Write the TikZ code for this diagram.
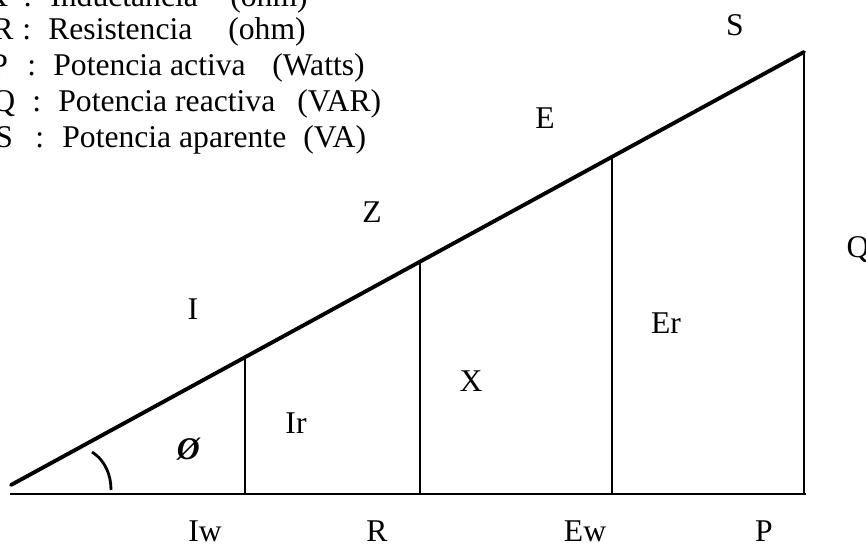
\documentclass[tikz,border=0pt]{standalone}
\usepackage{fontspec}
\setmainfont{Liberation Serif}
\usetikzlibrary{calc}

\begin{document}
\begin{tikzpicture}[lbl/.style={font=\fontsize{18}{21}\selectfont,inner sep=0pt},
  key/.style={lbl,anchor=base west}]
\useasboundingbox (0,0) rectangle (17.32,10.94);
\clip (0,0) rectangle (17.32,10.94);
\coordinate (O) at (0.2,1.06);
\coordinate (B) at (16.08,1.06);
\coordinate (H) at (0.22,1.24);
\coordinate (T) at (16.08,9.90);
\draw[line width=1.4pt] (O) -- ([xshift=1pt]B);
\draw[line width=2.2pt,line cap=round] (H) -- (T);
\draw[line width=1.4pt] (T) -- (B);
\foreach \t/\n in {0.2951/1,0.5158/2,0.7579/3}{
  \coordinate (h\n) at ($(H)!\t!(T)$);
  \draw[line width=1.3pt] (h\n) -- (h\n |- O);
}
\draw[line width=1.6pt] (1.84,1.90) .. controls (2.12,1.72) and (2.22,1.42) .. (2.22,1.14);
% side and segment labels
\node[lbl] (lS) at (14.70,10.44) {S};
\node[lbl] (lE) at (10.90,8.58) {E};
\node[lbl] (lZ) at (7.44,6.70) {Z};
\node[lbl] (lI) at (3.86,4.76) {I};
\node[lbl] (lQ) at (17.16,5.94) {Q};
\node[lbl] (lEr) at (13.32,4.48) {Er};
\node[lbl] (lX) at (9.42,3.32) {X};
\node[lbl] (lIr) at (5.92,2.48) {Ir};
\node[lbl] (lphi) at (3.78,1.96) {\textbf{\textit{Ø}}};
\node[lbl] (lIw) at (4.10,0.32) {Iw};
\node[lbl] (lR) at (7.54,0.32) {R};
\node[lbl] (lEw) at (11.70,0.32) {Ew};
\node[lbl] (lP) at (15.28,0.32) {P};
% legend
\foreach \y/\sx/\s/\cx/\dx/\d/\ux/\u in {
  10.80/-0.30/X/0.46/1.00/Inductancia/4.60/{(ohm)},
  10.14/-0.16/R/0.44/0.96/Resistencia/4.56/{(ohm)},
  9.42/-0.20/P/0.54/1.06/Potencia activa/5.44/{(Watts)},
  8.70/-0.16/Q/0.64/1.16/Potencia reactiva/5.94/{(VAR)},
  7.98/-0.10/S/0.70/1.24/Potencia aparente/6.06/{(VA)}}{
  \node[key] (k\s) at (\sx,\y) {\s};
  \node[key] (c\s) at (\cx,\y) {:};
  \node[key] (d\s) at (\dx,\y) {\d};
  \node[key] (u\s) at (\ux,\y) {\u};
}
\end{tikzpicture}
\end{document}
